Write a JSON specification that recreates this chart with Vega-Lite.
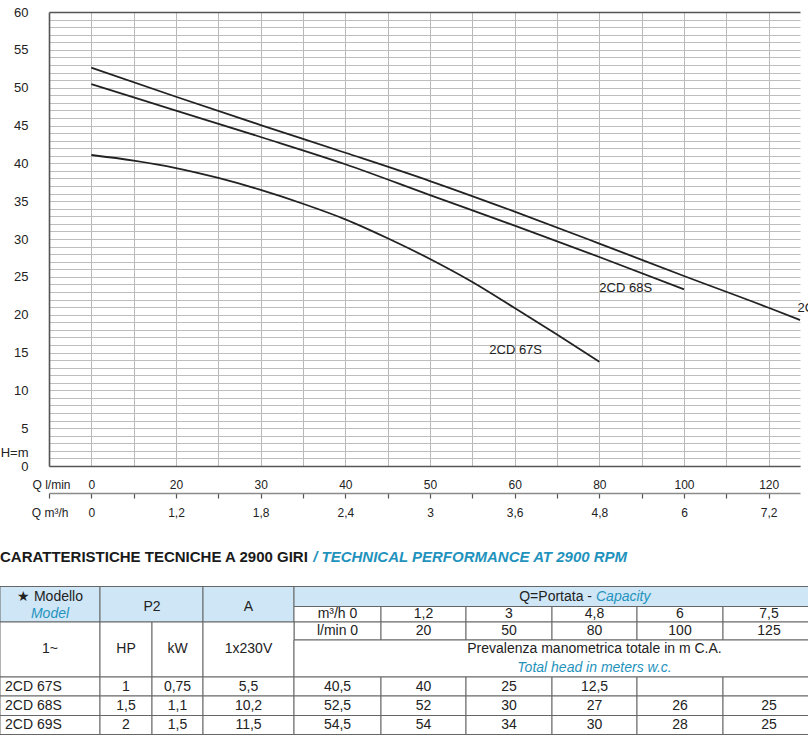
{
  "$schema": "https://vega.github.io/schema/vega-lite/v6.json",
  "width": 751,
  "height": 454,
  "autosize": {"type": "none"},
  "padding": {"left": 49, "top": 12, "right": 8, "bottom": 271},
  "config": {"font": "Liberation Sans", "view": {"stroke": null}},
  "datasets": {
    "curves": [
      {"model": "2CD 69S", "Q": 0, "H": 52.64},
      {"model": "2CD 69S", "Q": 20, "H": 48.8},
      {"model": "2CD 69S", "Q": 30, "H": 45.06},
      {"model": "2CD 69S", "Q": 40, "H": 41.4},
      {"model": "2CD 69S", "Q": 50, "H": 37.66},
      {"model": "2CD 69S", "Q": 60, "H": 33.62},
      {"model": "2CD 69S", "Q": 80, "H": 29.4},
      {"model": "2CD 69S", "Q": 100, "H": 25.11},
      {"model": "2CD 69S", "Q": 120, "H": 20.91},
      {"model": "2CD 69S", "Q": 127.4, "H": 19.29},
      {"model": "2CD 68S", "Q": 0, "H": 50.48},
      {"model": "2CD 68S", "Q": 20, "H": 46.98},
      {"model": "2CD 68S", "Q": 30, "H": 43.48},
      {"model": "2CD 68S", "Q": 40, "H": 39.88},
      {"model": "2CD 68S", "Q": 50, "H": 35.8},
      {"model": "2CD 68S", "Q": 60, "H": 31.76},
      {"model": "2CD 68S", "Q": 80, "H": 27.62},
      {"model": "2CD 68S", "Q": 100, "H": 23.35},
      {"model": "2CD 67S", "Q": 0, "H": 41.1},
      {"model": "2CD 67S", "Q": 10, "H": 40.36},
      {"model": "2CD 67S", "Q": 20, "H": 39.38},
      {"model": "2CD 67S", "Q": 25, "H": 38.07},
      {"model": "2CD 67S", "Q": 30, "H": 36.49},
      {"model": "2CD 67S", "Q": 35, "H": 34.66},
      {"model": "2CD 67S", "Q": 40, "H": 32.6},
      {"model": "2CD 67S", "Q": 45, "H": 30.1},
      {"model": "2CD 67S", "Q": 50, "H": 27.36},
      {"model": "2CD 67S", "Q": 55, "H": 24.32},
      {"model": "2CD 67S", "Q": 60, "H": 20.88},
      {"model": "2CD 67S", "Q": 70, "H": 17.38},
      {"model": "2CD 67S", "Q": 80, "H": 13.78}
    ],
    "labels": [
      {"model": "2CD 67S", "Q": 57, "H": 15.3},
      {"model": "2CD 68S", "Q": 80, "H": 23.5},
      {"model": "2CD 69S", "Q": 126.8, "H": 20.9}
    ],
    "cells": [
      {"c1": 0, "c2": 1, "r1": 0, "r2": 2, "part": "head"},
      {"c1": 1, "c2": 3, "r1": 0, "r2": 2, "part": "head"},
      {"c1": 3, "c2": 4, "r1": 0, "r2": 2, "part": "head"},
      {"c1": 4, "c2": 10, "r1": 0, "r2": 1, "part": "head"},
      {"c1": 4, "c2": 5, "r1": 1, "r2": 2, "part": "body"},
      {"c1": 5, "c2": 6, "r1": 1, "r2": 2, "part": "body"},
      {"c1": 6, "c2": 7, "r1": 1, "r2": 2, "part": "body"},
      {"c1": 7, "c2": 8, "r1": 1, "r2": 2, "part": "body"},
      {"c1": 8, "c2": 9, "r1": 1, "r2": 2, "part": "body"},
      {"c1": 9, "c2": 10, "r1": 1, "r2": 2, "part": "body"},
      {"c1": 4, "c2": 5, "r1": 2, "r2": 3, "part": "body"},
      {"c1": 5, "c2": 6, "r1": 2, "r2": 3, "part": "body"},
      {"c1": 6, "c2": 7, "r1": 2, "r2": 3, "part": "body"},
      {"c1": 7, "c2": 8, "r1": 2, "r2": 3, "part": "body"},
      {"c1": 8, "c2": 9, "r1": 2, "r2": 3, "part": "body"},
      {"c1": 9, "c2": 10, "r1": 2, "r2": 3, "part": "body"},
      {"c1": 0, "c2": 1, "r1": 2, "r2": 5, "part": "body"},
      {"c1": 1, "c2": 2, "r1": 2, "r2": 5, "part": "body"},
      {"c1": 2, "c2": 3, "r1": 2, "r2": 5, "part": "body"},
      {"c1": 3, "c2": 4, "r1": 2, "r2": 5, "part": "body"},
      {"c1": 4, "c2": 10, "r1": 3, "r2": 5, "part": "body"},
      {"c1": 0, "c2": 1, "r1": 5, "r2": 6, "part": "body"},
      {"c1": 1, "c2": 2, "r1": 5, "r2": 6, "part": "body"},
      {"c1": 2, "c2": 3, "r1": 5, "r2": 6, "part": "body"},
      {"c1": 3, "c2": 4, "r1": 5, "r2": 6, "part": "body"},
      {"c1": 4, "c2": 5, "r1": 5, "r2": 6, "part": "body"},
      {"c1": 5, "c2": 6, "r1": 5, "r2": 6, "part": "body"},
      {"c1": 6, "c2": 7, "r1": 5, "r2": 6, "part": "body"},
      {"c1": 7, "c2": 8, "r1": 5, "r2": 6, "part": "body"},
      {"c1": 8, "c2": 9, "r1": 5, "r2": 6, "part": "body"},
      {"c1": 9, "c2": 10, "r1": 5, "r2": 6, "part": "body"},
      {"c1": 0, "c2": 1, "r1": 6, "r2": 7, "part": "body"},
      {"c1": 1, "c2": 2, "r1": 6, "r2": 7, "part": "body"},
      {"c1": 2, "c2": 3, "r1": 6, "r2": 7, "part": "body"},
      {"c1": 3, "c2": 4, "r1": 6, "r2": 7, "part": "body"},
      {"c1": 4, "c2": 5, "r1": 6, "r2": 7, "part": "body"},
      {"c1": 5, "c2": 6, "r1": 6, "r2": 7, "part": "body"},
      {"c1": 6, "c2": 7, "r1": 6, "r2": 7, "part": "body"},
      {"c1": 7, "c2": 8, "r1": 6, "r2": 7, "part": "body"},
      {"c1": 8, "c2": 9, "r1": 6, "r2": 7, "part": "body"},
      {"c1": 9, "c2": 10, "r1": 6, "r2": 7, "part": "body"},
      {"c1": 0, "c2": 1, "r1": 7, "r2": 8, "part": "body"},
      {"c1": 1, "c2": 2, "r1": 7, "r2": 8, "part": "body"},
      {"c1": 2, "c2": 3, "r1": 7, "r2": 8, "part": "body"},
      {"c1": 3, "c2": 4, "r1": 7, "r2": 8, "part": "body"},
      {"c1": 4, "c2": 5, "r1": 7, "r2": 8, "part": "body"},
      {"c1": 5, "c2": 6, "r1": 7, "r2": 8, "part": "body"},
      {"c1": 6, "c2": 7, "r1": 7, "r2": 8, "part": "body"},
      {"c1": 7, "c2": 8, "r1": 7, "r2": 8, "part": "body"},
      {"c1": 8, "c2": 9, "r1": 7, "r2": 8, "part": "body"},
      {"c1": 9, "c2": 10, "r1": 7, "r2": 8, "part": "body"}
    ],
    "texts": [
      {"label": "CARATTERISTICHE TECNICHE A 2900 GIRI", "cx": 0, "cy": -1.5, "kind": "title"},
      {"label": "/ TECHNICAL PERFORMANCE AT 2900 RPM", "cx": 4.22, "cy": -1.5, "kind": "titleE"},
      {"label": "★ Modello", "cx": 0.5, "cy": 0.5, "kind": "t"},
      {"label": "Model", "cx": 0.5, "cy": 1.5, "kind": "e"},
      {"label": "P2", "cx": 2, "cy": 1, "kind": "t"},
      {"label": "A", "cx": 3.5, "cy": 1, "kind": "t"},
      {"label": "Q=Portata -", "cx": 7.5, "cy": 0.5, "kind": "tr"},
      {"label": "Capacity", "cx": 7.5, "cy": 0.5, "kind": "el"},
      {"label": "m³/h 0", "cx": 4.5, "cy": 1.5, "kind": "t"},
      {"label": "1,2", "cx": 5.5, "cy": 1.5, "kind": "t"},
      {"label": "3", "cx": 6.5, "cy": 1.5, "kind": "t"},
      {"label": "4,8", "cx": 7.5, "cy": 1.5, "kind": "t"},
      {"label": "6", "cx": 8.5, "cy": 1.5, "kind": "t"},
      {"label": "7,5", "cx": 9.5, "cy": 1.5, "kind": "t"},
      {"label": "l/min 0", "cx": 4.5, "cy": 2.5, "kind": "t"},
      {"label": "20", "cx": 5.5, "cy": 2.5, "kind": "t"},
      {"label": "50", "cx": 6.5, "cy": 2.5, "kind": "t"},
      {"label": "80", "cx": 7.5, "cy": 2.5, "kind": "t"},
      {"label": "100", "cx": 8.5, "cy": 2.5, "kind": "t"},
      {"label": "125", "cx": 9.5, "cy": 2.5, "kind": "t"},
      {"label": "1~", "cx": 0.5, "cy": 3.5, "kind": "t"},
      {"label": "HP", "cx": 1.5, "cy": 3.5, "kind": "t"},
      {"label": "kW", "cx": 2.5, "cy": 3.5, "kind": "t"},
      {"label": "1x230V", "cx": 3.5, "cy": 3.5, "kind": "t"},
      {"label": "Prevalenza manometrica totale in m C.A.", "cx": 7.5, "cy": 3.5, "kind": "t"},
      {"label": "Total head in meters w.c.", "cx": 7.5, "cy": 4.5, "kind": "e"},
      {"label": "2CD 67S", "cx": 0, "cy": 5.5, "kind": "n"},
      {"label": "1", "cx": 1.5, "cy": 5.5, "kind": "t"},
      {"label": "0,75", "cx": 2.5, "cy": 5.5, "kind": "t"},
      {"label": "5,5", "cx": 3.5, "cy": 5.5, "kind": "t"},
      {"label": "40,5", "cx": 4.5, "cy": 5.5, "kind": "t"},
      {"label": "40", "cx": 5.5, "cy": 5.5, "kind": "t"},
      {"label": "25", "cx": 6.5, "cy": 5.5, "kind": "t"},
      {"label": "12,5", "cx": 7.5, "cy": 5.5, "kind": "t"},
      {"label": "2CD 68S", "cx": 0, "cy": 6.5, "kind": "n"},
      {"label": "1,5", "cx": 1.5, "cy": 6.5, "kind": "t"},
      {"label": "1,1", "cx": 2.5, "cy": 6.5, "kind": "t"},
      {"label": "10,2", "cx": 3.5, "cy": 6.5, "kind": "t"},
      {"label": "52,5", "cx": 4.5, "cy": 6.5, "kind": "t"},
      {"label": "52", "cx": 5.5, "cy": 6.5, "kind": "t"},
      {"label": "30", "cx": 6.5, "cy": 6.5, "kind": "t"},
      {"label": "27", "cx": 7.5, "cy": 6.5, "kind": "t"},
      {"label": "26", "cx": 8.5, "cy": 6.5, "kind": "t"},
      {"label": "25", "cx": 9.5, "cy": 6.5, "kind": "t"},
      {"label": "2CD 69S", "cx": 0, "cy": 7.5, "kind": "n"},
      {"label": "2", "cx": 1.5, "cy": 7.5, "kind": "t"},
      {"label": "1,5", "cx": 2.5, "cy": 7.5, "kind": "t"},
      {"label": "11,5", "cx": 3.5, "cy": 7.5, "kind": "t"},
      {"label": "54,5", "cx": 4.5, "cy": 7.5, "kind": "t"},
      {"label": "54", "cx": 5.5, "cy": 7.5, "kind": "t"},
      {"label": "34", "cx": 6.5, "cy": 7.5, "kind": "t"},
      {"label": "30", "cx": 7.5, "cy": 7.5, "kind": "t"},
      {"label": "28", "cx": 8.5, "cy": 7.5, "kind": "t"},
      {"label": "25", "cx": 9.5, "cy": 7.5, "kind": "t"}
    ]
  },
  "layer": [
    {
      "layer": [
        {
          "data": {"name": "curves"},
          "mark": {"type": "line", "interpolate": "monotone", "color": "#222222", "strokeWidth": 1.8},
          "encoding": {
            "x": {
              "field": "Q", "type": "quantitative",
              "scale": {"domain": [-10, 0, 20, 30, 40, 50, 60, 80, 100, 120, 127.4], "range": [0, 42.33, 127, 211.67, 296.33, 381, 465.67, 550.33, 635, 719.67, 751], "nice": false, "zero": false},
              "axis": {
                "orient": "bottom",
                "values": [0, 10, 20, 25, 30, 35, 40, 45, 50, 55, 60, 70, 80, 90, 100, 110, 120],
                "tickCount": 200,
                "labelExpr": "indexof([0,20,30,40,50,60,80,100,120], datum.value) >= 0 ? datum.label : ''",
                "format": "d",
                "grid": true, "gridColor": "#b8b8b8", "gridWidth": 1,
                "domain": true, "domainColor": "#555555", "domainWidth": 1.6,
                "ticks": false, "tickSize": 0,
                "labelPadding": 18, "labelBaseline": "middle", "labelFontSize": 12, "labelColor": "#222222",
                "labelOverlap": false, "labelFlush": false,
                "title": "Q l/min", "titleX": 21, "titleY": 18, "titleAlign": "right", "titleBaseline": "middle",
                "titleFontSize": 12, "titleFontWeight": "normal", "titleColor": "#222222"
              }
            },
            "y": {
              "field": "H", "type": "quantitative",
              "scale": {"domain": [0, 60], "nice": false, "zero": false},
              "axis": {
                "values": [0,1,2,3,4,5,6,7,8,9,10,11,12,13,14,15,16,17,18,19,20,21,22,23,24,25,26,27,28,29,30,31,32,33,34,35,36,37,38,39,40,41,42,43,44,45,46,47,48,49,50,51,52,53,54,55,56,57,58,59,60],
                "tickCount": 200,
                "labelExpr": "datum.value % 5 === 0 ? datum.label : ''",
                "format": "d",
                "grid": true,
                "gridColor": {"condition": {"test": "datum.value === 60", "value": "#555555"}, "value": "#bdbdbd"},
                "gridWidth": {"condition": {"test": "datum.value === 60", "value": 1.6}, "value": 1},
                "domainColor": "#555555", "domainWidth": 1.6,
                "ticks": false, "tickSize": 0,
                "labelPadding": 21, "labelFontSize": 13, "labelColor": "#222222", "labelOverlap": false, "labelBaseline": "middle",
                "title": "H=m", "titleAngle": 0, "titleX": -21, "titleY": 440, "titleAlign": "right", "titleBaseline": "middle",
                "titleFontSize": 13, "titleFontWeight": "normal", "titleColor": "#222222"
              }
            },
            "detail": {"field": "model", "type": "nominal"}
          }
        },
        {
          "data": {"name": "labels"},
          "mark": {"type": "text", "align": "left", "baseline": "middle", "fontSize": 13, "color": "#222222"},
          "encoding": {
            "x": {"field": "Q", "type": "quantitative"},
            "y": {"field": "H", "type": "quantitative"},
            "text": {"field": "model", "type": "nominal"}
          }
        }
      ]
    },
    {
      "data": {"name": "curves"},
      "mark": {"type": "rule", "opacity": 0},
      "encoding": {
        "x": {
          "field": "Q", "type": "quantitative",
          "scale": {"domain": [-10, 0, 20, 30, 40, 50, 60, 80, 100, 120, 127.4], "range": [0, 42.33, 127, 211.67, 296.33, 381, 465.67, 550.33, 635, 719.67, 751], "nice": false, "zero": false},
          "axis": {
            "orient": "bottom", "offset": 27,
            "values": [-10, 0, 10, 20, 25, 30, 35, 40, 45, 50, 55, 60, 70, 80, 90, 100, 110, 120],
            "tickCount": 200,
            "labelExpr": "indexof([0,20,30,40,50,60,80,100,120], datum.value) >= 0 ? replace(format(datum.value * 0.06, '.1~f'), '.', ',') : ''",
            "grid": false,
            "domainColor": "#8a8a8a", "domainWidth": 1.6,
            "ticks": true, "tickColor": "#555555", "tickSize": 5, "tickWidth": 1.2,
            "labelPadding": 14, "labelBaseline": "middle", "labelFontSize": 12, "labelColor": "#222222",
            "labelOverlap": false, "labelFlush": false,
            "title": "Q m³/h", "titleX": 19, "titleY": 19, "titleAlign": "right", "titleBaseline": "middle",
            "titleFontSize": 12, "titleFontWeight": "normal", "titleColor": "#222222"
          }
        }
      }
    },
    {
      "layer": [
        {
          "data": {"name": "cells"},
          "mark": {"type": "rect", "stroke": "#666666", "strokeWidth": 1},
          "encoding": {
            "x": {"field": "c1", "type": "quantitative", "scale": {"domain": [0,1,2,3,4,5,6,7,8,9,10], "range": [-49,51,103,154,245,332,417,503,588,674,766], "nice": false, "zero": false}, "axis": null},
            "x2": {"field": "c2"},
            "y": {"field": "r1", "type": "quantitative", "scale": {"domain": [0,1,2,3,5,6,7,8], "range": [574.5,594.5,610,628,665,684,703.5,722.5], "nice": false, "zero": false}, "axis": null},
            "y2": {"field": "r2"},
            "fill": {"field": "part", "type": "nominal", "scale": {"domain": ["head", "body"], "range": ["#cfe6f7", "#ffffff"]}, "legend": null}
          }
        },
        {
          "data": {"name": "texts"},
          "transform": [{"filter": "datum.kind === 't'"}],
          "mark": {"type": "text", "align": "center", "baseline": "middle", "fontSize": 14, "color": "#222222"},
          "encoding": {
            "x": {"field": "cx", "type": "quantitative"},
            "y": {"field": "cy", "type": "quantitative"},
            "text": {"field": "label", "type": "nominal"}
          }
        },
        {
          "data": {"name": "texts"},
          "transform": [{"filter": "datum.kind === 'e'"}],
          "mark": {"type": "text", "align": "center", "baseline": "middle", "fontSize": 14, "fontStyle": "italic", "color": "#1f93bd"},
          "encoding": {
            "x": {"field": "cx", "type": "quantitative"},
            "y": {"field": "cy", "type": "quantitative"},
            "text": {"field": "label", "type": "nominal"}
          }
        },
        {
          "data": {"name": "texts"},
          "transform": [{"filter": "datum.kind === 'n'"}],
          "mark": {"type": "text", "align": "left", "baseline": "middle", "fontSize": 14, "dx": 5, "color": "#222222"},
          "encoding": {
            "x": {"field": "cx", "type": "quantitative"},
            "y": {"field": "cy", "type": "quantitative"},
            "text": {"field": "label", "type": "nominal"}
          }
        },
        {
          "data": {"name": "texts"},
          "transform": [{"filter": "datum.kind === 'tr'"}],
          "mark": {"type": "text", "align": "right", "baseline": "middle", "fontSize": 14, "dx": -2.5, "color": "#222222"},
          "encoding": {
            "x": {"field": "cx", "type": "quantitative"},
            "y": {"field": "cy", "type": "quantitative"},
            "text": {"field": "label", "type": "nominal"}
          }
        },
        {
          "data": {"name": "texts"},
          "transform": [{"filter": "datum.kind === 'el'"}],
          "mark": {"type": "text", "align": "left", "baseline": "middle", "fontSize": 14, "dx": 1.5, "fontStyle": "italic", "color": "#1f93bd"},
          "encoding": {
            "x": {"field": "cx", "type": "quantitative"},
            "y": {"field": "cy", "type": "quantitative"},
            "text": {"field": "label", "type": "nominal"}
          }
        },
        {
          "data": {"name": "texts"},
          "transform": [{"filter": "datum.kind === 'title'"}],
          "mark": {"type": "text", "align": "left", "baseline": "middle", "fontSize": 15, "fontWeight": "bold", "color": "#1a1a1a"},
          "encoding": {
            "x": {"field": "cx", "type": "quantitative"},
            "y": {"field": "cy", "type": "quantitative"},
            "text": {"field": "label", "type": "nominal"}
          }
        },
        {
          "data": {"name": "texts"},
          "transform": [{"filter": "datum.kind === 'titleE'"}],
          "mark": {"type": "text", "align": "left", "baseline": "middle", "fontSize": 15, "fontWeight": "bold", "fontStyle": "italic", "color": "#1f93bd"},
          "encoding": {
            "x": {"field": "cx", "type": "quantitative"},
            "y": {"field": "cy", "type": "quantitative"},
            "text": {"field": "label", "type": "nominal"}
          }
        }
      ]
    }
  ],
  "resolve": {"scale": {"x": "independent", "y": "independent"}}
}
